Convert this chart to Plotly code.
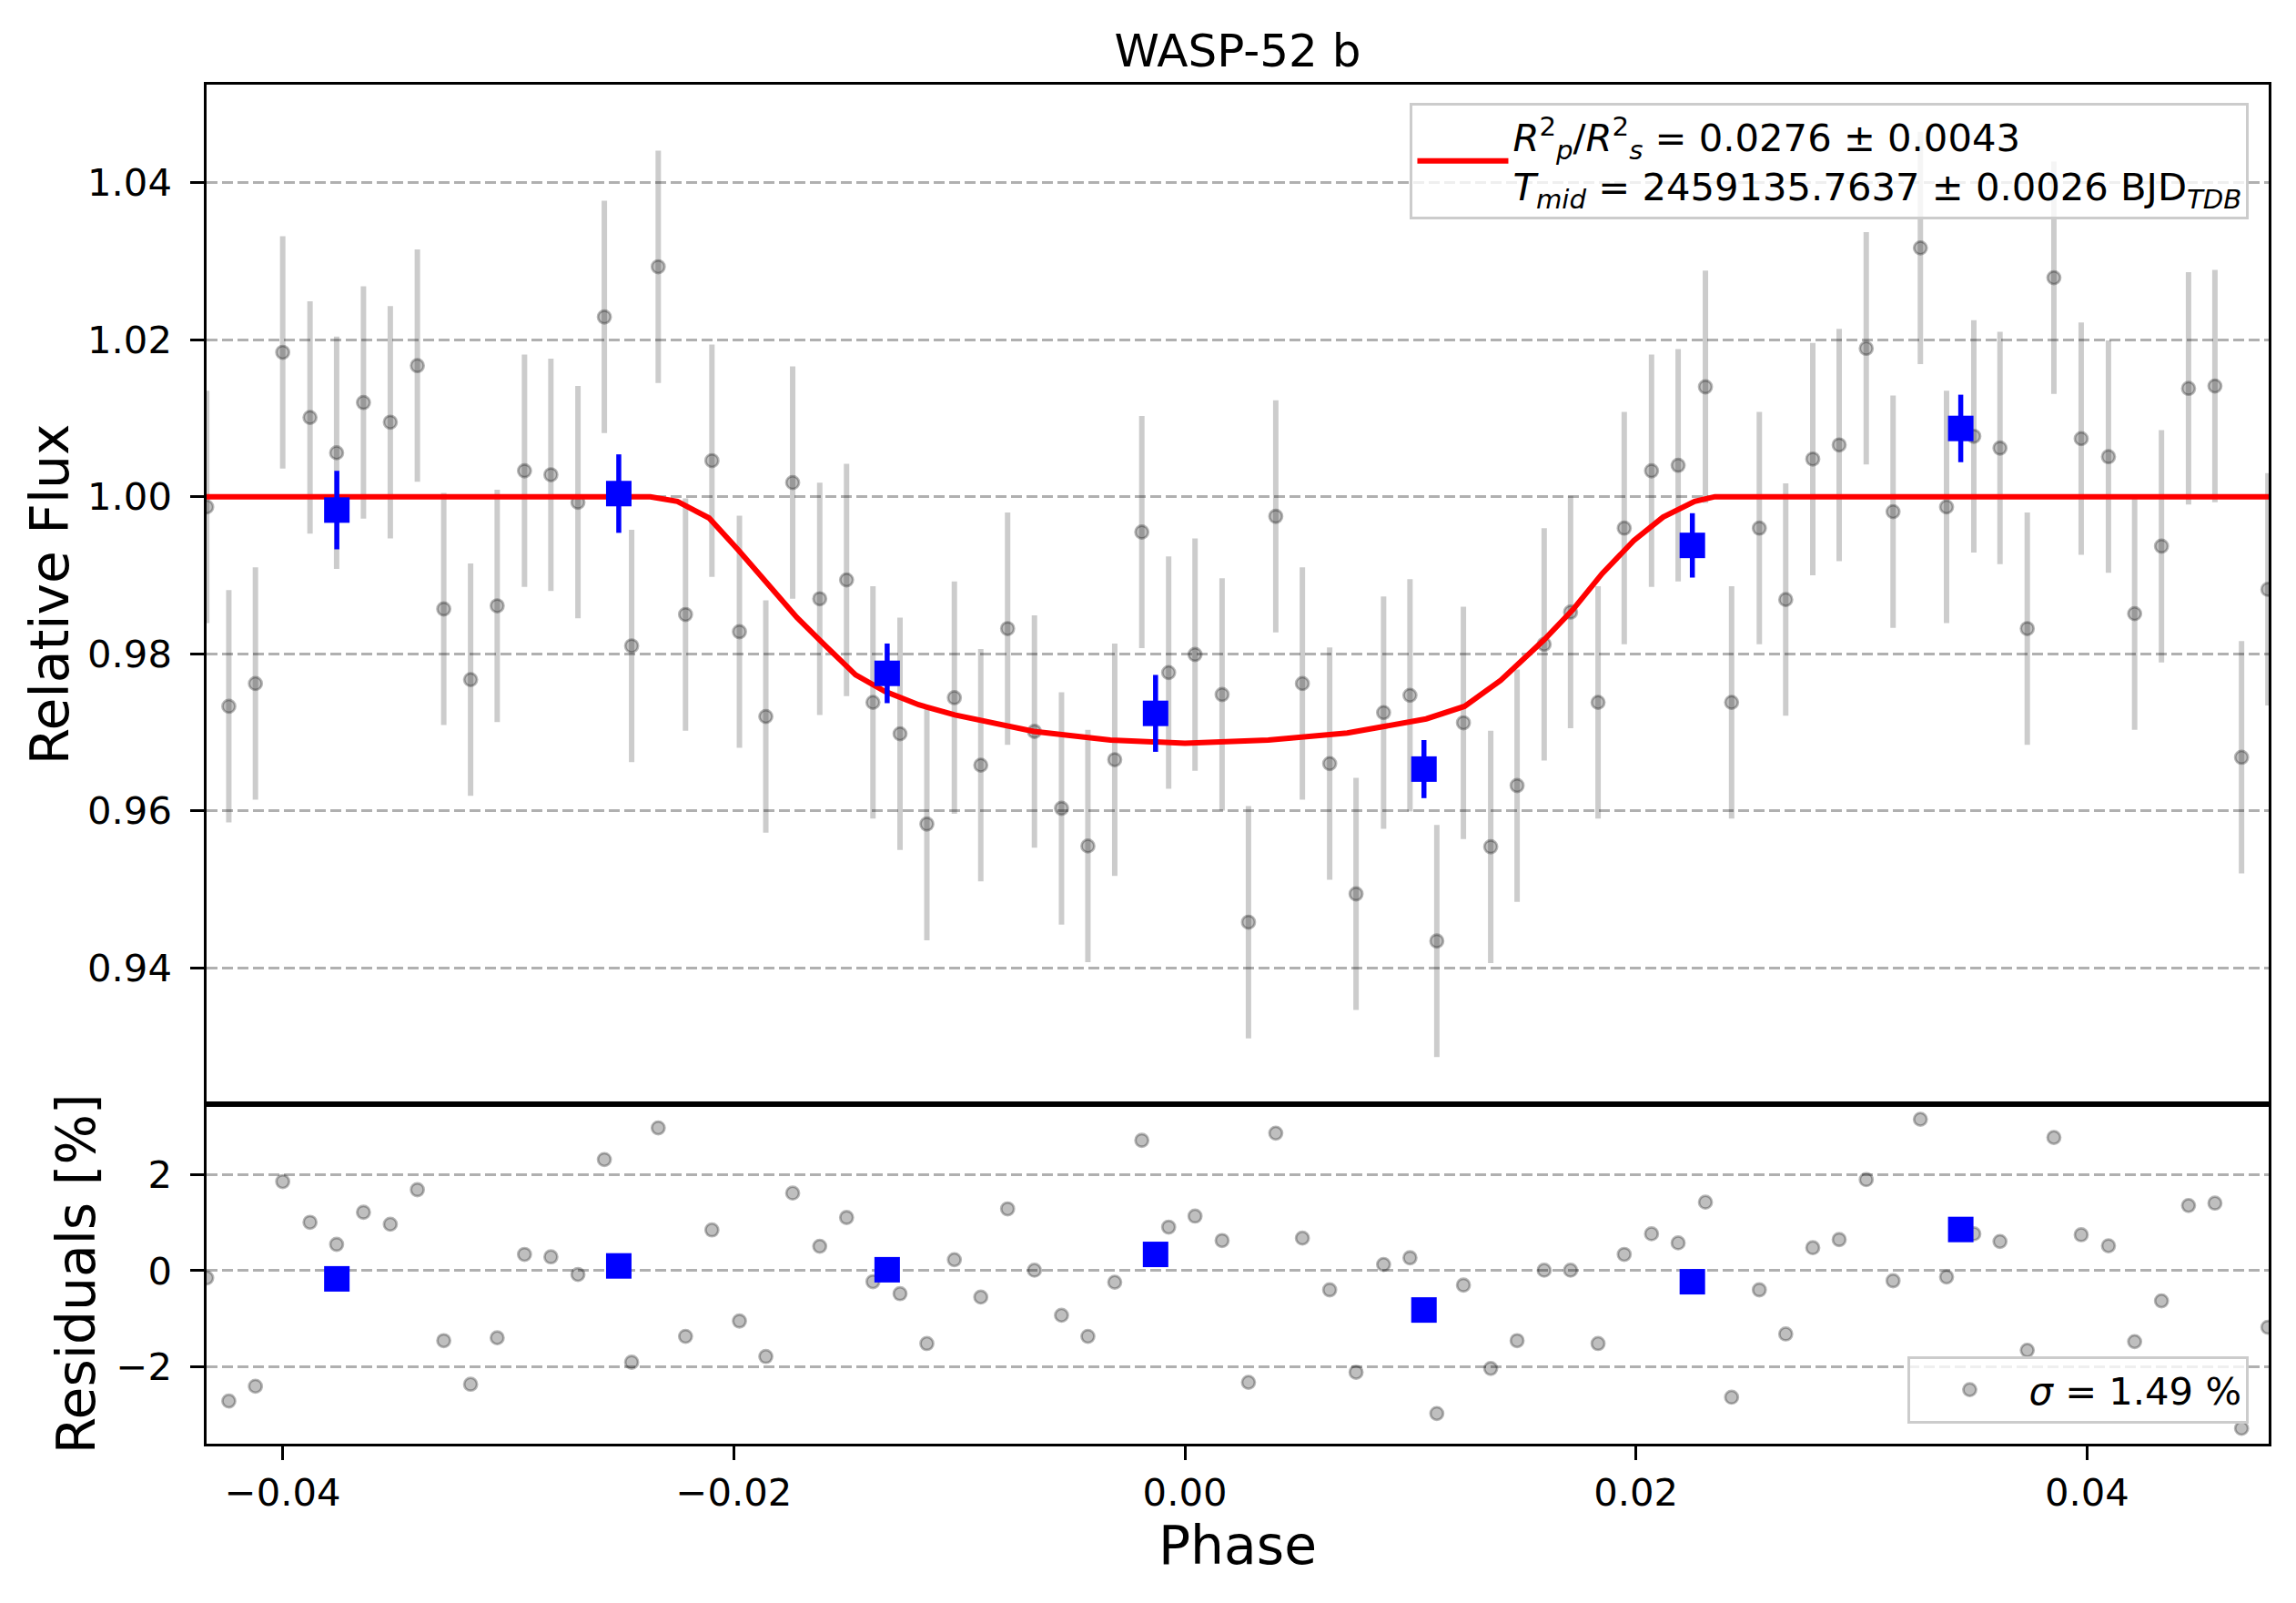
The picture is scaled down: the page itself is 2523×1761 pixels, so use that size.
import plotly.graph_objects as go

# phase of each exposure
phase = [
    -0.04337, -0.04239, -0.04121, -0.04000, -0.03879, -0.03761, -0.03642, -0.03523, -0.03403, -0.03286,
    -0.03167, -0.03049, -0.02928, -0.02811, -0.02691, -0.02574, -0.02453, -0.02335, -0.02214, -0.02097,
    -0.01975, -0.01858, -0.01739, -0.01619, -0.01500, -0.01383, -0.01263, -0.01144, -0.01022, -0.00905,
    -0.00786, -0.00667, -0.00547, -0.00430, -0.00311, -0.00191, -0.00072, 0.00045, 0.00165, 0.00282,
    0.00403, 0.00521, 0.00642, 0.00759, 0.00881, 0.00998, 0.01117, 0.01235, 0.01356, 0.01473,
    0.01593, 0.01710, 0.01832, 0.01948, 0.02069, 0.02187, 0.02308, 0.02424, 0.02547, 0.02664,
    0.02784, 0.02901, 0.03021, 0.03140, 0.03261, 0.03377, 0.03498, 0.03614, 0.03735, 0.03853,
    0.03974, 0.04095, 0.04211, 0.04330, 0.04450, 0.04567, 0.04685, 0.04802,
]
flux = [
    0.9987, 0.9733, 0.9762, 1.0184, 1.0101, 1.0056, 1.0120, 1.0095, 1.0167, 0.9857,
    0.9767, 0.9861, 1.0033, 1.0028, 0.9993, 1.0229, 0.9810, 1.0293, 0.9850, 1.0046,
    0.9828, 0.9720, 1.0018, 0.9870, 0.9894, 0.9738, 0.9698, 0.9583, 0.9744, 0.9658,
    0.9832, 0.9701, 0.9603, 0.9555, 0.9665, 0.9955, 0.9776, 0.9799, 0.9748, 0.9458,
    0.9975, 0.9762, 0.9660, 0.9494, 0.9725, 0.9747, 0.9434, 0.9712, 0.9554, 0.9632,
    0.9812, 0.9853, 0.9738, 0.9960, 1.0033, 1.0040, 1.0140, 0.9738, 0.9960, 0.9869,
    1.0048, 1.0066, 1.0189, 0.9981, 1.0317, 0.9987, 1.0077, 1.0062, 0.9832, 1.0279,
    1.0074, 1.0051, 0.9851, 0.9937, 1.0138, 1.0141, 0.9668, 0.9882,
]
flux_err = 0.0148
residuals = [
    -0.15, -2.72, -2.41, 1.86, 1.01, 0.55, 1.22, 0.97, 1.69, -1.46,
    -2.37, -1.40, 0.34, 0.29, -0.08, 2.32, -1.91, 2.98, -1.37, 0.85,
    -1.05, -1.79, 1.62, 0.51, 1.11, -0.23, -0.48, -1.52, 0.23, -0.55,
    1.29, 0.01, -0.93, -1.37, -0.24, 2.72, 0.91, 1.14, 0.63, -2.33,
    2.87, 0.68, -0.40, -2.12, 0.13, 0.27, -2.98, -0.30, -2.04, -1.46,
    0.01, 0.01, -1.52, 0.34, 0.77, 0.58, 1.43, -2.64, -0.40, -1.32,
    0.48, 0.65, 1.90, -0.21, 3.16, -0.13, 0.77, 0.61, -1.66, 2.78,
    0.75, 0.52, -1.48, -0.63, 1.36, 1.41, -3.29, -1.18,
]

# binned points
bin_phase = [-0.0376, -0.0251, -0.0132, -0.0013, 0.0106, 0.0225, 0.0344]
bin_flux = [0.9983, 1.0004, 0.9775, 0.9724, 0.9653, 0.9938, 1.0087]
bin_err = [0.0050, 0.0050, 0.0038, 0.0049, 0.0037, 0.0041, 0.0043]
bin_resid = [-0.17, 0.10, 0.02, 0.34, -0.82, -0.23, 0.86]

# transit model, sampled from the red curve
model_phase = [
    -0.0434, -0.0237, -0.0225, -0.0211, -0.0198, -0.0185, -0.0172, -0.0160, -0.0146,
    -0.0133, -0.0118, -0.0102, -0.0067, -0.0033, 0.0, 0.0037, 0.0072, 0.0107,
    0.0124, 0.0140, 0.0159, 0.0172, 0.0185, 0.0199, 0.0212, 0.0226, 0.0235, 0.0481,
]
model_flux = [
    1.0, 1.0, 0.9994, 0.9973, 0.9932, 0.9888, 0.9846, 0.9812, 0.9773,
    0.9752, 0.9735, 0.9722, 0.9701, 0.9690, 0.9686, 0.9690, 0.9699, 0.9717,
    0.9733, 0.9766, 0.9817, 0.9856, 0.9902, 0.9944, 0.9974, 0.9994, 1.0, 1.0,
]

title = "WASP-52 b"
model_label = (
    "<i>R</i><sup>2</sup><sub><i>p</i></sub>/<i>R</i><sup>2</sup><sub><i>s</i></sub>"
    " = 0.0276 ± 0.0043<br>"
    "<i>T</i><sub><i>mid</i></sub> = 2459135.7637 ± 0.0026 BJD<sub><i>TDB</i></sub>"
)
resid_label = "<i>σ</i> = 1.49 %"

FONT = "DejaVu Sans"
gray_marker = dict(
    size=14, color="rgba(0,0,0,0.25)", line=dict(color="rgba(0,0,0,0.28)", width=2.8)
)

fig = go.Figure()
fig.add_trace(go.Scatter(
    x=phase, y=flux, mode="markers", marker=gray_marker, showlegend=False,
    error_y=dict(type="constant", value=flux_err, color="rgba(0,0,0,0.2)",
                 thickness=6, width=0),
    xaxis="x", yaxis="y",
))
fig.add_trace(go.Scatter(
    x=model_phase, y=model_flux, mode="lines", line=dict(color="red", width=6),
    name=model_label, legend="legend", xaxis="x", yaxis="y",
))
fig.add_trace(go.Scatter(
    x=bin_phase, y=bin_flux, mode="markers", showlegend=False,
    marker=dict(symbol="square", size=28, color="blue"),
    error_y=dict(type="data", array=bin_err, color="blue", thickness=5.5, width=0),
    xaxis="x", yaxis="y",
))
fig.add_trace(go.Scatter(
    x=phase, y=residuals, mode="markers", marker=gray_marker,
    name=resid_label, legend="legend2", xaxis="x2", yaxis="y2",
))
fig.add_trace(go.Scatter(
    x=bin_phase, y=bin_resid, mode="markers", showlegend=False,
    marker=dict(symbol="square", size=28, color="blue"),
    xaxis="x2", yaxis="y2",
))

axis_common = dict(
    showline=True, linecolor="black", linewidth=3.3, mirror=True,
    ticks="outside", ticklen=14.6, tickwidth=3.3, tickcolor="black",
    tickfont=dict(family=FONT, size=41.7, color="black"),
    zeroline=False, automargin=False,
)
grid = dict(showgrid=True, gridcolor="#b0b0b0", gridwidth=3, griddash="12px,5px")
xrange = [-0.043376, 0.048054]

# the page adds an 8 px body margin, so the figure is a little smaller
fig.update_layout(
    width=2507, height=1745,
    margin=dict(l=218.5, r=21.5, t=84.5, b=167),
    paper_bgcolor="white", plot_bgcolor="white",
    font=dict(family=FONT, color="black"),
    title=dict(text=title, x=0.5, xref="paper", y=1, yref="paper",
               xanchor="center", yanchor="bottom", pad=dict(b=20),
               font=dict(family=FONT, size=50, color="black")),
    xaxis=dict(axis_common, domain=[0, 1], anchor="y", range=xrange,
               showticklabels=False, ticks="", showgrid=False),
    yaxis=dict(**axis_common, **grid, domain=[0.25, 1], anchor="x", range=[0.92264, 1.0525],
               tickvals=[0.94, 0.96, 0.98, 1.00, 1.02, 1.04], tickformat=".2f",
               ticklabelstandoff=12,
               title=dict(text="Relative Flux", standoff=2,
                          font=dict(family=FONT, size=58.3, color="black"))),
    xaxis2=dict(axis_common, domain=[0, 1], anchor="y2", range=xrange,
                tickvals=[-0.04, -0.02, 0.0, 0.02, 0.04], tickformat=".2f",
                showgrid=False,
                title=dict(text="Phase", standoff=14,
                           font=dict(family=FONT, size=58.3, color="black"))),
    yaxis2=dict(**axis_common, **grid, domain=[0, 0.25], anchor="x2", range=[-3.61, 3.48],
                tickvals=[-2, 0, 2], ticklabelstandoff=12,
                title=dict(text="Residuals [%]", standoff=5,
                           font=dict(family=FONT, size=58.3, color="black"))),
    legend=dict(x=0.9905, y=0.9865, xanchor="right", yanchor="top",
                bgcolor="rgba(255,255,255,0.8)", bordercolor="#cccccc", borderwidth=3,
                font=dict(family=FONT, size=41.7, color="black"), itemwidth=100),
    legend2=dict(x=0.9905, y=0.0147, xanchor="right", yanchor="bottom",
                 bgcolor="rgba(255,255,255,0.8)", bordercolor="#cccccc", borderwidth=3,
                 font=dict(family=FONT, size=41.7, color="black"), itemwidth=120),
)

fig.write_html("out.html")
